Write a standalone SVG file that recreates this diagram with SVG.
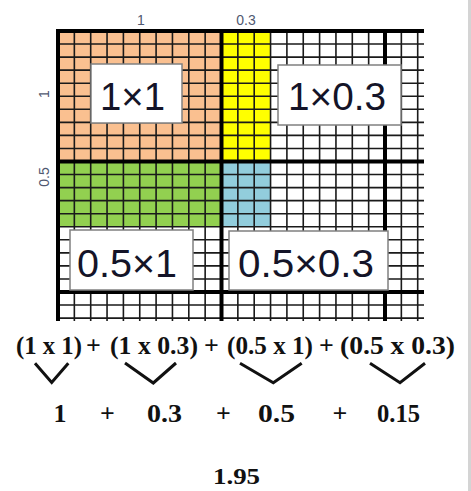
<svg xmlns="http://www.w3.org/2000/svg" width="471" height="491" viewBox="0 0 471 491">
<style>
.thin{stroke:#1a1a1a;stroke-width:1.6;fill:none}
.thick{stroke:#000;stroke-width:4;fill:none}
.box{fill:#fff;stroke:#808080;stroke-width:1.5}
.lbl{font-family:"Liberation Sans",Arial,sans-serif;font-size:39px;fill:#141428}
.ax{font-family:"Liberation Sans",Arial,sans-serif;font-size:14px;fill:#505870}
.eq{font-family:"Liberation Serif","Times New Roman",serif;font-weight:bold;font-size:26px;fill:#111}
.chev{stroke:#111;stroke-width:3;fill:none;stroke-linejoin:miter}
</style>
<rect width="471" height="491" fill="#fff"/>
<rect x="468" y="0" width="3" height="491" fill="#d4d4d4"/>
<g id="area">
<rect x="58" y="31" width="163.5" height="130.5" fill="#FAC090"/>
<rect x="221.5" y="31" width="49.05" height="130.5" fill="#FFFF00"/>
<rect x="58" y="161.5" width="163.5" height="65.25" fill="#92D050"/>
<rect x="221.5" y="161.5" width="49.05" height="65.25" fill="#92CDDC"/>
<path class="thin" d="M74.35 31V321M90.7 31V321M107.05 31V321M123.4 31V321M139.75 31V321M156.1 31V321M172.45 31V321M188.8 31V321M205.15 31V321M237.85 31V321M254.2 31V321M270.55 31V321M286.9 31V321M303.25 31V321M319.6 31V321M335.95 31V321M352.3 31V321M368.65 31V321M401.35 31V321M417.7 31V321"/>
<path class="thin" d="M58 44.05H424M58 57.1H424M58 70.15H424M58 83.2H424M58 96.25H424M58 109.3H424M58 122.35H424M58 135.4H424M58 148.45H424M58 174.55H424M58 187.6H424M58 200.65H424M58 213.7H424M58 239.8H424M58 252.85H424M58 265.9H424M58 278.95H424M58 305.05H424M58 318.1H424M58 226.75H424"/>
<path class="thick" d="M56 31H424M58 31V321M221.5 31V321M385 31V321M58 161.5H424M58 292H424"/>
<text class="ax" x="141" y="25" text-anchor="middle">1</text>
<text class="ax" x="246" y="25" text-anchor="middle">0.3</text>
<text class="ax" transform="translate(49 94) rotate(-90)" text-anchor="middle">1</text>
<text class="ax" transform="translate(49 177) rotate(-90)" text-anchor="middle">0.5</text>
</g>
<g id="box-1x1">
<rect class="box" x="91" y="64" width="91" height="59"/>
<text class="lbl" x="100" y="110" textLength="65" lengthAdjust="spacingAndGlyphs">1×1</text>
</g>
<g id="box-1x03">
<rect class="box" x="278" y="65" width="123" height="60"/>
<text class="lbl" x="288" y="110" textLength="98" lengthAdjust="spacingAndGlyphs">1×0.3</text>
</g>
<g id="box-05x1">
<rect class="box" x="70" y="230" width="123" height="60"/>
<text class="lbl" x="77" y="277" textLength="100" lengthAdjust="spacingAndGlyphs">0.5×1</text>
</g>
<g id="box-05x03">
<rect class="box" x="229" y="231" width="159" height="59"/>
<text class="lbl" x="238" y="277" textLength="136" lengthAdjust="spacingAndGlyphs">0.5×0.3</text>
</g>
<g id="equation">
<text class="eq" x="16" y="354" textLength="66" lengthAdjust="spacingAndGlyphs">(1 x 1)</text>
<text class="eq" x="93.5" y="354" text-anchor="middle">+</text>
<text class="eq" x="110" y="354" textLength="88" lengthAdjust="spacingAndGlyphs">(1 x 0.3)</text>
<text class="eq" x="211.5" y="354" text-anchor="middle">+</text>
<text class="eq" x="227" y="354" textLength="86" lengthAdjust="spacingAndGlyphs">(0.5 x 1)</text>
<text class="eq" x="326.5" y="354" text-anchor="middle">+</text>
<text class="eq" x="340" y="354" textLength="115" lengthAdjust="spacingAndGlyphs">(0.5 x 0.3)</text>
</g>
<g id="connectors">
<path class="chev" d="M35 363.3L51.7 382.5L68.3 363.3"/>
<path class="chev" d="M125 363L153.3 383L176 363"/>
<path class="chev" d="M240 363.3L273.3 382.7L301.7 363.3"/>
<path class="chev" d="M370 363.3L400 382.7L425 363.3"/>
</g>
<g id="results">
<text class="eq" x="60" y="422" text-anchor="middle">1</text>
<text class="eq" x="107.5" y="422" text-anchor="middle">+</text>
<text class="eq" x="147" y="422" textLength="35" lengthAdjust="spacingAndGlyphs">0.3</text>
<text class="eq" x="223.5" y="422" text-anchor="middle">+</text>
<text class="eq" x="258" y="422" textLength="37" lengthAdjust="spacingAndGlyphs">0.5</text>
<text class="eq" x="340" y="422" text-anchor="middle">+</text>
<text class="eq" x="377" y="422" textLength="43" lengthAdjust="spacingAndGlyphs">0.15</text>
</g>
<g id="total">
<text class="eq" x="213" y="484" textLength="47" lengthAdjust="spacingAndGlyphs" style="font-size:24px">1.95</text>
</g>
</svg>
